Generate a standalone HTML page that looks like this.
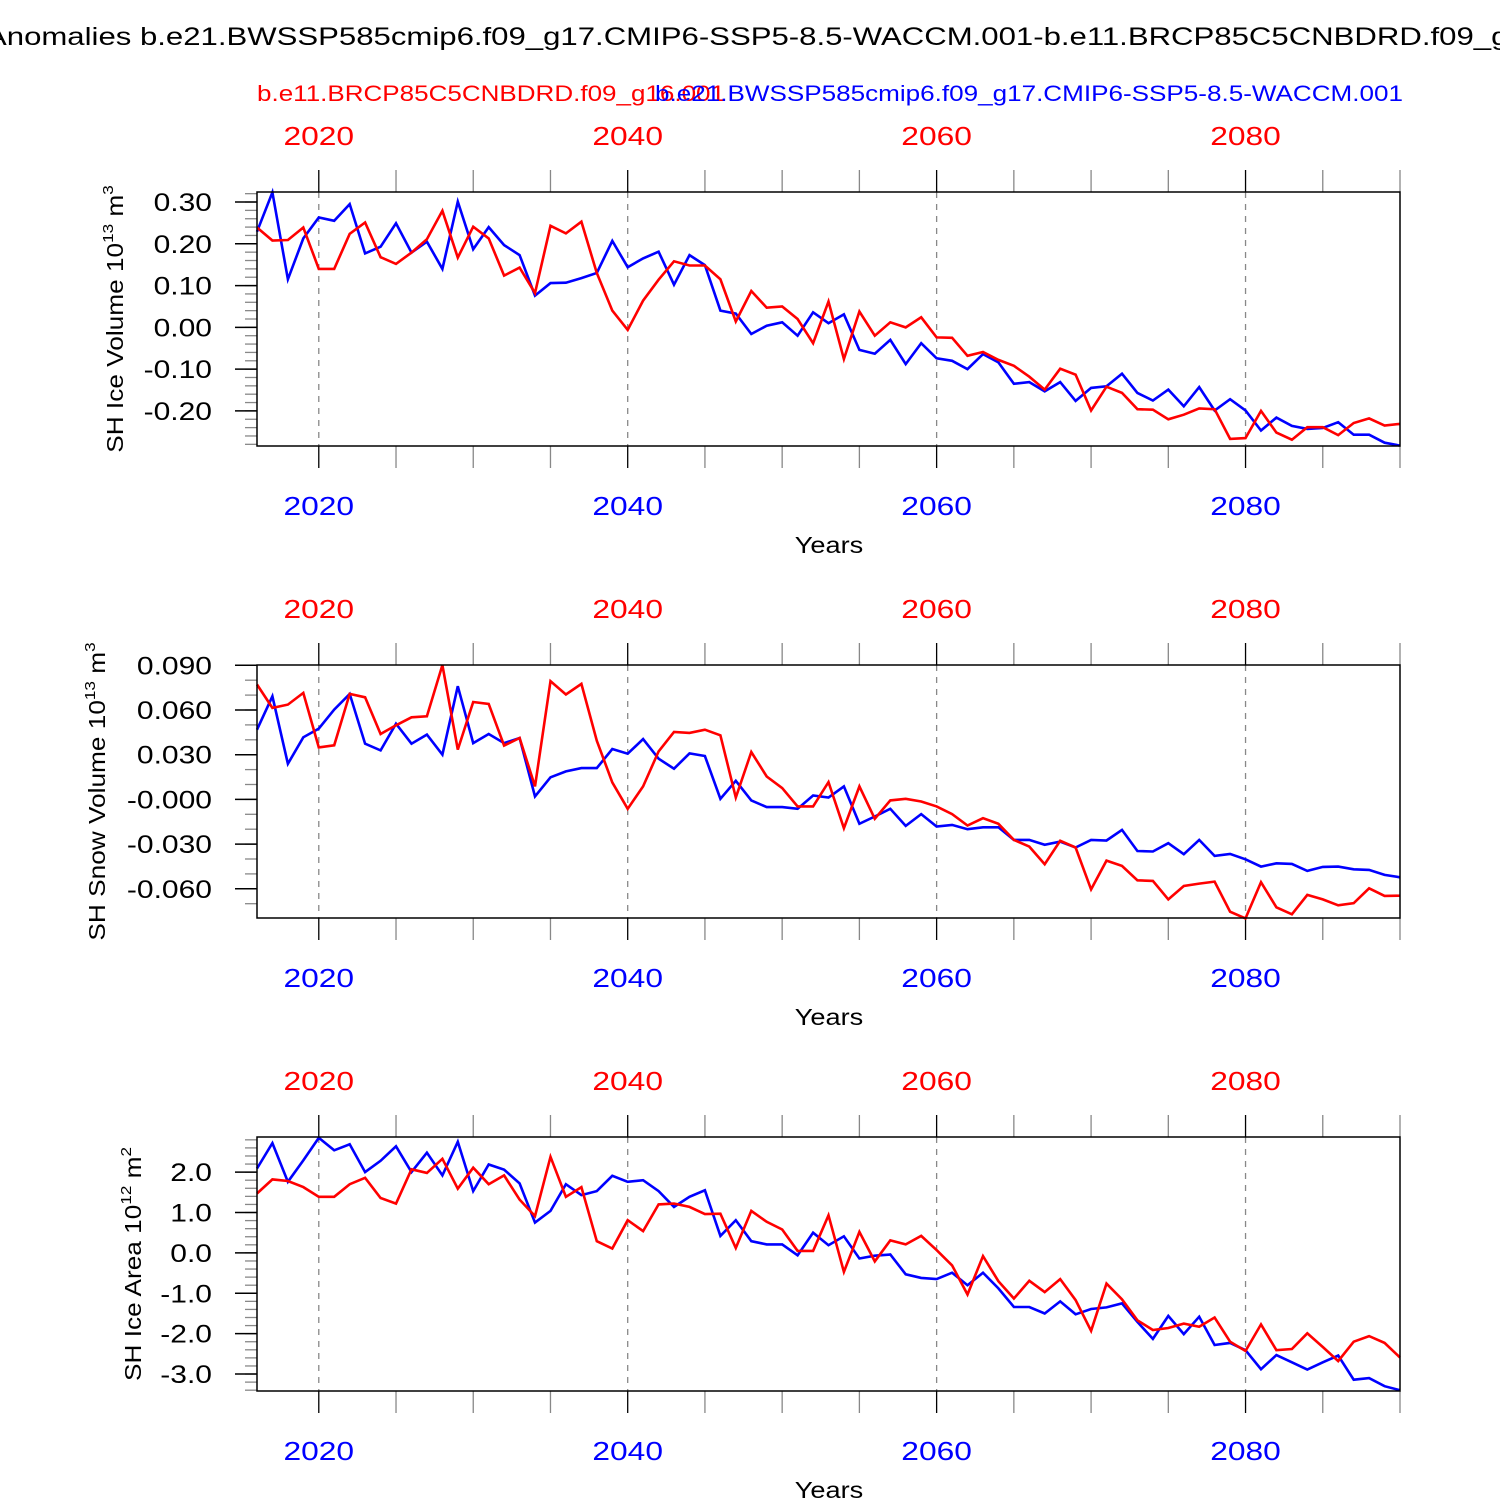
<!DOCTYPE html>
<html><head><meta charset="utf-8"><style>
body{margin:0;background:#fff;}
svg{display:block;font-family:"Liberation Sans",Arial,sans-serif;}
</style></head><body>
<svg id="chart" width="1500" height="1500" viewBox="0 0 1500 1500" xmlns="http://www.w3.org/2000/svg">
<text class="st" x="-14" y="45" font-size="25" fill="#000">Anomalies b.e21.BWSSP585cmip6.f09_g17.CMIP6-SSP5-8.5-WACCM.001-b.e11.BRCP85C5CNBDRD.f09_g16.001</text>
<text x="257" y="101" font-size="22" fill="#f00" textLength="468" lengthAdjust="spacingAndGlyphs">b.e11.BRCP85C5CNBDRD.f09_g16.001</text>
<text x="655" y="101" font-size="22" fill="#00f" textLength="748" lengthAdjust="spacingAndGlyphs">b.e21.BWSSP585cmip6.f09_g17.CMIP6-SSP5-8.5-WACCM.001</text>
<g id="panels"></g>
</svg>
<script>
const years=[];for(let y=2016;y<=2090;y++)years.push(y);
const xTicks=[2020,2040,2060,2080];

const iceVolBlue=[0.229,0.323,0.115,0.213,0.263,0.255,0.295,0.177,0.193,0.249,0.179,0.205,0.140,0.301,0.187,0.240,0.197,0.173,0.076,0.106,0.107,0.118,0.130,0.207,0.144,0.165,0.181,0.102,0.173,0.149,0.040,0.033,-0.016,0.004,0.012,-0.020,0.036,0.010,0.031,-0.054,-0.063,-0.030,-0.088,-0.038,-0.074,-0.080,-0.100,-0.064,-0.084,-0.135,-0.131,-0.153,-0.131,-0.176,-0.145,-0.141,-0.111,-0.157,-0.175,-0.149,-0.189,-0.143,-0.199,-0.172,-0.199,-0.247,-0.216,-0.236,-0.243,-0.241,-0.227,-0.257,-0.257,-0.276,-0.283];
const iceVolRed=[0.239,0.208,0.209,0.239,0.140,0.140,0.224,0.251,0.168,0.152,0.179,0.211,0.279,0.167,0.241,0.213,0.124,0.143,0.082,0.243,0.225,0.253,0.130,0.040,-0.006,0.064,0.114,0.158,0.148,0.148,0.115,0.014,0.087,0.047,0.050,0.020,-0.038,0.062,-0.076,0.038,-0.020,0.012,0.000,0.024,-0.024,-0.025,-0.068,-0.059,-0.078,-0.092,-0.118,-0.149,-0.099,-0.113,-0.199,-0.142,-0.157,-0.196,-0.197,-0.220,-0.209,-0.194,-0.196,-0.267,-0.265,-0.200,-0.252,-0.269,-0.239,-0.239,-0.258,-0.229,-0.218,-0.235,-0.231];
const snowBlue=[0.0468,0.0692,0.0239,0.0417,0.0475,0.0603,0.0708,0.0374,0.0329,0.0508,0.0374,0.0435,0.0300,0.0760,0.0378,0.0439,0.0378,0.0412,0.0020,0.0148,0.0188,0.0210,0.0210,0.0338,0.0307,0.0405,0.0273,0.0206,0.0309,0.0291,0.0004,0.0125,-0.0007,-0.0052,-0.0052,-0.0063,0.0026,0.0013,0.0087,-0.0164,-0.0115,-0.0063,-0.0178,-0.0099,-0.0182,-0.0171,-0.0200,-0.0187,-0.0187,-0.0272,-0.0272,-0.0305,-0.0283,-0.0323,-0.0272,-0.0276,-0.0205,-0.0346,-0.0350,-0.0294,-0.0368,-0.0272,-0.0379,-0.0366,-0.0402,-0.0451,-0.0429,-0.0433,-0.0480,-0.0453,-0.0451,-0.0469,-0.0473,-0.0507,-0.0523];
const snowRed=[0.0771,0.0614,0.0636,0.0715,0.0349,0.0363,0.0708,0.0685,0.0439,0.0497,0.0551,0.0558,0.0901,0.0334,0.0654,0.0641,0.0361,0.0412,0.0087,0.0793,0.0704,0.0775,0.0394,0.0114,-0.0063,0.0087,0.0322,0.0452,0.0446,0.0468,0.0430,0.0013,0.0318,0.0154,0.0076,-0.0047,-0.0047,0.0116,-0.0193,0.0087,-0.0130,-0.0007,0.0004,-0.0014,-0.0047,-0.0099,-0.0175,-0.0126,-0.0164,-0.0272,-0.0317,-0.0435,-0.0278,-0.0323,-0.0604,-0.0411,-0.0446,-0.0543,-0.0547,-0.0671,-0.0581,-0.0565,-0.0552,-0.0754,-0.0799,-0.0556,-0.0724,-0.0771,-0.0641,-0.0671,-0.0711,-0.0697,-0.0597,-0.0648,-0.0646];
const areaBlue=[2.09,2.72,1.76,2.29,2.85,2.54,2.69,2.00,2.28,2.64,2.00,2.48,1.92,2.75,1.53,2.19,2.06,1.72,0.75,1.04,1.70,1.43,1.53,1.91,1.76,1.80,1.53,1.14,1.39,1.55,0.42,0.81,0.29,0.21,0.21,-0.06,0.50,0.19,0.41,-0.14,-0.07,-0.04,-0.53,-0.62,-0.65,-0.49,-0.80,-0.49,-0.88,-1.34,-1.34,-1.50,-1.20,-1.52,-1.39,-1.35,-1.25,-1.71,-2.13,-1.56,-2.01,-1.58,-2.28,-2.23,-2.41,-2.88,-2.53,-2.71,-2.89,-2.71,-2.54,-3.14,-3.10,-3.30,-3.40];
const areaRed=[1.47,1.82,1.78,1.63,1.39,1.39,1.70,1.86,1.36,1.22,2.07,1.98,2.33,1.59,2.11,1.70,1.92,1.32,0.91,2.38,1.39,1.63,0.29,0.11,0.81,0.54,1.20,1.22,1.14,0.96,0.97,0.12,1.04,0.77,0.58,0.05,0.05,0.93,-0.47,0.52,-0.21,0.31,0.21,0.42,0.07,-0.31,-1.03,-0.08,-0.70,-1.13,-0.69,-0.97,-0.65,-1.17,-1.93,-0.76,-1.15,-1.67,-1.91,-1.86,-1.75,-1.83,-1.60,-2.20,-2.43,-1.77,-2.41,-2.38,-1.99,-2.33,-2.68,-2.20,-2.06,-2.23,-2.59];

const iceVolTicks=["0.30","0.20","0.10","0.00","-0.10","-0.20"];
const snowTicks=["0.090","0.060","0.030","-0.000","-0.030","-0.060"];
const areaTicks=["2.0","1.0","0.0","-1.0","-2.0","-3.0"];

const NS="http://www.w3.org/2000/svg";
const root=document.getElementById('panels');
function mk(tag,attrs,parent){const e=document.createElementNS(NS,tag);for(const k in attrs)e.setAttribute(k,attrs[k]);(parent||root).appendChild(e);return e;}
function stretch(t,f){const w=t.getComputedTextLength();t.setAttribute('textLength',(w*f).toFixed(1));t.setAttribute('lengthAdjust','spacingAndGlyphs');}

const X0=257,X1=1400;
function xs(yr){return X0+(yr-2016)*(X1-X0)/(2090-2016);}

const panels=[
 {id:'ice-volume',top:192,bot:446,vmin:-0.284,vmax:0.324,tv:[0.3,0.2,0.1,0,-0.1,-0.2],tl:iceVolTicks,minor:0.02,blue:iceVolBlue,red:iceVolRed,title:'SH Ice Volume 10',sup:'13',unit:' m',usup:'3',tx:115},
 {id:'snow-volume',top:665,bot:918,vmin:-0.0796,vmax:0.0902,tv:[0.09,0.06,0.03,0,-0.03,-0.06],tl:snowTicks,minor:0.01,blue:snowBlue,red:snowRed,title:'SH Snow Volume 10',sup:'13',unit:' m',usup:'3',tx:97},
 {id:'ice-area',top:1137,bot:1391,vmin:-3.42,vmax:2.87,tv:[2,1,0,-1,-2,-3],tl:areaTicks,minor:0.2,blue:areaBlue,red:areaRed,title:'SH Ice Area 10',sup:'12',unit:' m',usup:'2',tx:133}
];

panels.forEach(p=>{
 const g=mk('g',{});
 
 
 const ys=v=>p.bot-(v-p.vmin)/(p.vmax-p.vmin)*(p.bot-p.top);
 xTicks.forEach(t=>{const l=mk('line',{x1:xs(t),x2:xs(t),y1:p.top,y2:p.bot,stroke:'#888','stroke-width':1.3,'stroke-dasharray':'6,6'},g);
  });
 for(let yr=2020;yr<=2090;yr+=5){
  const x=xs(yr),maj=(yr%20===0);
  mk('line',{x1:x,x2:x,y1:p.top,y2:p.top-22,stroke:maj?'#000':'#888','stroke-width':1.3},g);
  mk('line',{x1:x,x2:x,y1:p.bot,y2:p.bot+22,stroke:maj?'#000':'#888','stroke-width':1.3},g);
 }
 const n0=Math.ceil(p.vmin/p.minor-1e-6),n1=Math.floor(p.vmax/p.minor+1e-6);
 for(let i=n0;i<=n1;i++){const y=ys(i*p.minor);mk('line',{x1:X0-12,x2:X0,y1:y,y2:y,stroke:'#888','stroke-width':1.3},g);}
 p.tv.forEach((v,i)=>{const y=ys(v);
  mk('line',{x1:X0-22,x2:X0,y1:y,y2:y,stroke:'#000','stroke-width':1.5},g);
  const t=mk('text',{x:X0-45,y:y+9,'font-size':25,'text-anchor':'end',fill:'#000'},g);t.textContent=p.tl[i];
  
  stretch(t,1.2);
 });
 xTicks.forEach(t=>{
  const a=mk('text',{x:xs(t),y:p.top-47,'font-size':26,'text-anchor':'middle',fill:'#f00'},g);a.textContent=t;
  
  stretch(a,1.22);
  const b=mk('text',{x:xs(t),y:p.bot+69,'font-size':26,'text-anchor':'middle',fill:'#00f'},g);b.textContent=t;
  
  stretch(b,1.22);
 });
 const xt=mk('text',{x:829,y:p.bot+107,'font-size':23,'text-anchor':'middle',fill:'#000'},g);xt.textContent='Years';
 
 stretch(xt,1.18);
 const cy=(p.top+p.bot)/2;
 const yt=mk('text',{x:p.tx,y:cy,'font-size':23,'text-anchor':'middle',fill:'#000',transform:`rotate(-90 ${p.tx} ${cy})`,dy:8},g);
 
 yt.innerHTML=`${p.title}<tspan font-size="15" dy="-10">${p.sup}</tspan><tspan dy="10">${p.unit}</tspan><tspan font-size="15" dy="-10">${p.usup}</tspan>`;
 stretch(yt,1.14);
 [['blue',p.blue,'#00f'],['red',p.red,'#f00']].forEach(([nm,arr,c])=>{
  const d=arr.map((v,i)=>(i?'L':'M')+xs(years[i]).toFixed(1)+','+ys(v).toFixed(1)).join('');
  const l=mk('path',{d:d,fill:'none',stroke:c,'stroke-width':2.6,'stroke-linejoin':'miter'},g);
  
 });
 const fr=mk('rect',{x:X0,y:p.top,width:X1-X0,height:p.bot-p.top,fill:'none',stroke:'#000','stroke-width':1.5},g);
 
});
stretch(document.querySelector('.st'),1.245);
</script>
</body></html>
